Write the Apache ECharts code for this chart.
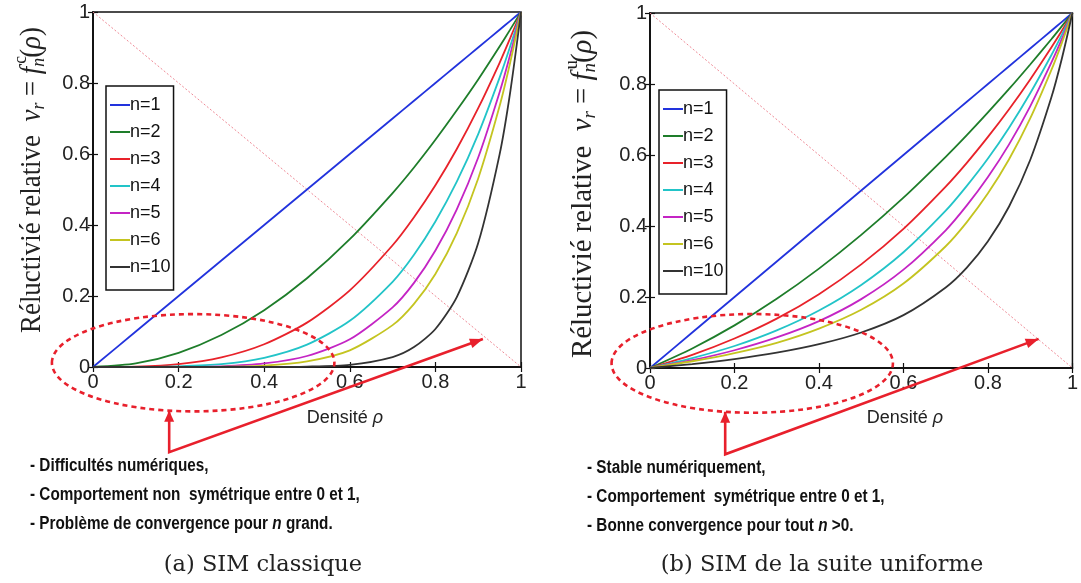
<!DOCTYPE html>
<html><head><meta charset="utf-8">
<script src="https://cdn.jsdelivr.net/npm/echarts@6/dist/echarts.min.js"></script>
<style>html,body{margin:0;padding:0;background:#fff}#c{width:1081px;height:583px}</style>
</head><body><div id="c"></div><script>
// ---- data ----
const rho = [0, 0.1, 0.2, 0.3, 0.4, 0.5, 0.6, 0.7, 0.75, 0.8, 0.85, 0.9, 0.95, 0.975, 1];
const seriesNames = ['n=1', 'n=2', 'n=3', 'n=4', 'n=5', 'n=6', 'n=10'];
// (a) SIM classique
const classicN1  = [0, 0.1, 0.2, 0.3, 0.4, 0.5, 0.6, 0.7, 0.75, 0.8, 0.85, 0.9, 0.95, 0.975, 1];
const classicN2  = [0, 0.01, 0.04, 0.09, 0.16, 0.25, 0.36, 0.49, 0.562, 0.64, 0.723, 0.81, 0.903, 0.951, 1];
const classicN3  = [0, 0.001, 0.008, 0.027, 0.064, 0.125, 0.216, 0.343, 0.422, 0.512, 0.614, 0.729, 0.857, 0.927, 1];
const classicN4  = [0, 0, 0.002, 0.008, 0.026, 0.063, 0.13, 0.24, 0.316, 0.41, 0.522, 0.656, 0.815, 0.904, 1];
const classicN5  = [0, 0, 0, 0.002, 0.01, 0.031, 0.078, 0.168, 0.237, 0.328, 0.444, 0.59, 0.774, 0.881, 1];
const classicN6  = [0, 0, 0, 0.001, 0.004, 0.016, 0.047, 0.118, 0.178, 0.262, 0.377, 0.531, 0.735, 0.859, 1];
const classicN10 = [0, 0, 0, 0, 0, 0.001, 0.006, 0.028, 0.056, 0.107, 0.197, 0.349, 0.599, 0.776, 1];
// (b) SIM de la suite uniforme
const uniformN1  = [0, 0.1, 0.2, 0.3, 0.4, 0.5, 0.6, 0.7, 0.75, 0.8, 0.85, 0.9, 0.95, 0.975, 1];
const uniformN2  = [0, 0.055, 0.12, 0.195, 0.28, 0.375, 0.48, 0.595, 0.656, 0.72, 0.786, 0.855, 0.926, 0.963, 1];
const uniformN3  = [0, 0.037, 0.083, 0.139, 0.208, 0.292, 0.392, 0.511, 0.578, 0.651, 0.729, 0.813, 0.903, 0.95, 1];
const uniformN4  = [0, 0.028, 0.062, 0.106, 0.162, 0.234, 0.326, 0.443, 0.513, 0.59, 0.677, 0.774, 0.881, 0.939, 1];
const uniformN5  = [0, 0.022, 0.05, 0.086, 0.132, 0.194, 0.277, 0.388, 0.458, 0.538, 0.63, 0.737, 0.86, 0.927, 1];
const uniformN6  = [0, 0.019, 0.042, 0.071, 0.111, 0.164, 0.238, 0.343, 0.411, 0.492, 0.588, 0.703, 0.839, 0.916, 1];
const uniformN10 = [0, 0.011, 0.025, 0.043, 0.067, 0.1, 0.149, 0.227, 0.283, 0.357, 0.455, 0.586, 0.762, 0.872, 1];
const diagX = [0, 1];
const diagY = [1, 0];
const tickLabels = ['0', '0.2', '0.4', '0.6', '0.8', '1'];
const classicSets = [classicN1, classicN2, classicN3, classicN4, classicN5, classicN6, classicN10];
const uniformSets = [uniformN1, uniformN2, uniformN3, uniformN4, uniformN5, uniformN6, uniformN10];
const notesA = ['- Difficultés numériques,', '- Comportement non  symétrique entre 0 et 1,', '- Problème de convergence pour {i|n}{b| grand.}'];
const notesB = ['- Stable numériquement,', '- Comportement  symétrique entre 0 et 1,', '- Bonne convergence pour tout {i|n}{b| >0.}'];

// ---- styling ----
const colors = ['#2233dd', '#1e7d2a', '#e8222a', '#22c4c8', '#c424c4', '#c4c420', '#333333'];
const SANS = '"Liberation Sans", Arial, sans-serif';
const SERIF = '"Liberation Serif", "Times New Roman", serif';
const NOTE = '"Liberation Sans Narrow", "Liberation Sans", sans-serif';
const RED = '#e8202c';

const chart = echarts.init(document.getElementById('c'), null, {renderer: 'canvas'});
const fmt = v => tickLabels[Math.round(v / 0.2)];

function axes(gi) {
  const base = {
    gridIndex: gi, type: 'value', min: 0, max: 1, interval: 0.2,
    axisLine: {show: true, lineStyle: {color: '#111', width: 1.5}},
    axisTick: {show: true, inside: true, length: 5, lineStyle: {color: '#111', width: 1.2}},
    splitLine: {show: false}
  };
  return {
    x: [
      Object.assign({}, base, {position: 'bottom', axisLabel: {fontSize: 20, fontFamily: SANS, color: '#222', margin: 5, formatter: fmt}}),
      Object.assign({}, base, {position: 'top', axisLabel: {show: false}})
    ],
    y: [
      Object.assign({}, base, {position: 'left', axisLabel: {fontSize: 20, fontFamily: SANS, color: '#222', margin: 3, formatter: fmt}}),
      Object.assign({}, base, {position: 'right', axisLabel: {show: false}})
    ]
  };
}
const a0 = axes(0), a1 = axes(1);

const series = [];
function addPanel(sets, gi) {
  series.push({
    type: 'line', xAxisIndex: gi * 2, yAxisIndex: gi * 2, symbol: 'none', silent: true,
    data: diagX.map((x, i) => [x, diagY[i]]),
    lineStyle: {color: '#ee8a96', width: 1, type: [2, 2]}, z: 1
  });
  sets.forEach((arr, k) => {
    series.push({
      name: seriesNames[k], type: 'line', xAxisIndex: gi * 2, yAxisIndex: gi * 2,
      symbol: 'none', smooth: 0.25,
      data: rho.map((x, i) => [x, arr[i]]),
      lineStyle: {color: colors[k], width: 1.8}, itemStyle: {color: colors[k]}, z: 3
    });
  });
}
addPanel(classicSets, 0);
addPanel(uniformSets, 1);

function legendAt(left, top) {
  return {
    left, top, orient: 'vertical', data: seriesNames.map(n => ({name: n, icon: 'rect'})),
    itemWidth: 20, itemHeight: 2, itemGap: 9,
    borderColor: '#111', borderWidth: 1.5, borderRadius: 0,
    padding: [10, 3, 14, 4], backgroundColor: '#fff',
    textStyle: {fontSize: 18, fontFamily: SANS, color: '#111', padding: [0, 0, 0, -5]},
    selectedMode: false
  };
}

chart.setOption({
  animation: false,
  backgroundColor: '#fff',
  grid: [
    {left: 93, top: 12, width: 428, height: 355, show: true, borderColor: '#111', borderWidth: 1.5, backgroundColor: 'transparent'},
    {left: 650, top: 13, width: 426, height: 355, show: true, borderColor: '#111', borderWidth: 1.5, backgroundColor: 'transparent'}
  ],
  xAxis: [a0.x[0], a0.x[1], a1.x[0], a1.x[1]],
  yAxis: [a0.y[0], a0.y[1], a1.y[0], a1.y[1]],
  legend: [legendAt(106, 86), legendAt(659, 90)],
  series
});

// ---- annotations ----
const ctx = document.createElement('canvas').getContext('2d');
function tw(text, font) { ctx.font = font; return ctx.measureText(text).width; }

function yTitle(cx, bottomY, targetLen, sup) {
  const big = 29, small = 19;
  const parts = [
    {t: 'Réluctivié relative  ', f: `${big}px ${SERIF}`},
    {t: 'ν', f: `italic ${big}px ${SERIF}`},
    {t: 'r', f: `italic ${small}px ${SERIF}`, dy: 7},
    {t: ' = ', f: `${big}px ${SERIF}`},
    {t: 'f', f: `italic ${big}px ${SERIF}`},
    {t: sup, f: `${small}px ${SERIF}`, dy: -11, noAdv: true, dx: 3},
    {t: 'n', f: `italic ${small}px ${SERIF}`, dy: 7},
    {t: '(', f: `${big}px ${SERIF}`},
    {t: 'ρ', f: `italic ${big}px ${SERIF}`},
    {t: ')', f: `${big}px ${SERIF}`}
  ];
  let x = 0;
  const children = [];
  parts.forEach(p => {
    children.push({type: 'text', x: x + (p.dx || 0), y: p.dy || 0,
      style: {text: p.t, font: p.f, fill: '#222', align: 'left', verticalAlign: 'middle'}});
    if (!p.noAdv) x += tw(p.t, p.f);
  });
  return {type: 'group', x: cx, y: bottomY, rotation: Math.PI / 2, scaleX: targetLen / x, children, silent: true};
}

function arrowHead(tip, from, len, half) {
  const dx = tip[0] - from[0], dy = tip[1] - from[1];
  const L = Math.hypot(dx, dy), ux = dx / L, uy = dy / L;
  const bx = tip[0] - ux * len, by = tip[1] - uy * len;
  return {type: 'polygon', silent: true, shape: {points: [tip, [bx - uy * half, by + ux * half], [bx + uy * half, by - ux * half]]}, style: {fill: RED}};
}

function panelAnnot(gi, ell, pivot, tip) {
  const p = v => chart.convertToPixel({gridIndex: gi}, v);
  const c = p([ell.cx, ell.cy]);
  const e1 = p([ell.cx + ell.rx, ell.cy + ell.ry]);
  const rx = e1[0] - c[0], ry = c[1] - e1[1];
  const pv = p(pivot);
  const topV = [pv[0], c[1] + ry * Math.sqrt(Math.max(0, 1 - Math.pow((pv[0] - c[0]) / rx, 2)))];
  const tp = p(tip);
  return [
    {type: 'ellipse', silent: true, shape: {cx: c[0], cy: c[1], rx, ry}, style: {fill: 'none', stroke: RED, lineWidth: 2.6, lineDash: [5, 4]}, z: 10},
    {type: 'polyline', silent: true, shape: {points: [topV, pv, tp]}, style: {stroke: RED, lineWidth: 2.6, fill: 'none'}, z: 10},
    Object.assign(arrowHead(topV, pv, 11, 5), {z: 10}),
    Object.assign(arrowHead(tp, pv, 13, 5), {z: 10})
  ];
}

function notes(x, y0, lines) {
  return lines.map((l, i) => ({
    type: 'text', x, y: y0 + i * 29, silent: true, scaleX: 0.85,
    style: {
      text: l.indexOf('{') >= 0 ? '{b|' + l.replace('{i|', '}{i|') : l,
      font: `bold 18px ${NOTE}`, fill: '#111', verticalAlign: 'middle',
      rich: {b: {font: `bold 18px ${NOTE}`, fill: '#111'}, i: {font: `italic bold 18px ${NOTE}`, fill: '#111'}}
    }
  }));
}

const graphics = [].concat(
  [yTitle(32, 333, 306, 'c'), yTitle(583, 358, 328, 'u')],
  panelAnnot(0, {cx: 0.234, cy: 0.012, rx: 0.33, ry: 0.137}, [0.178, -0.24], [0.911, 0.079]),
  panelAnnot(1, {cx: 0.242, cy: 0.013, rx: 0.333, ry: 0.139}, [0.178, -0.243], [0.92, 0.082]),
  [
    {type: 'text', x: 345, y: 418, silent: true, style: {text: '{a|Densité }{b|ρ}', align: 'center', verticalAlign: 'middle', rich: {a: {fontSize: 18, fontFamily: SANS, fill: '#222'}, b: {fontSize: 18, fontFamily: SANS, fontStyle: 'italic', fill: '#222'}}}},
    {type: 'text', x: 905, y: 418, silent: true, style: {text: '{a|Densité }{b|ρ}', align: 'center', verticalAlign: 'middle', rich: {a: {fontSize: 18, fontFamily: SANS, fill: '#222'}, b: {fontSize: 18, fontFamily: SANS, fontStyle: 'italic', fill: '#222'}}}},
    {type: 'text', x: 263, y: 565, silent: true, style: {text: '(a) SIM classique', align: 'center', verticalAlign: 'middle', font: `22.5px "DejaVu Serif", serif`, fill: '#222'}},
    {type: 'text', x: 822, y: 565, silent: true, style: {text: '(b) SIM de la suite uniforme', align: 'center', verticalAlign: 'middle', font: `22.5px "DejaVu Serif", serif`, fill: '#222'}}
  ],
  notes(30, 466, notesA),
  notes(587, 468, notesB)
);
chart.setOption({graphic: {elements: graphics}});
</script></body></html>
